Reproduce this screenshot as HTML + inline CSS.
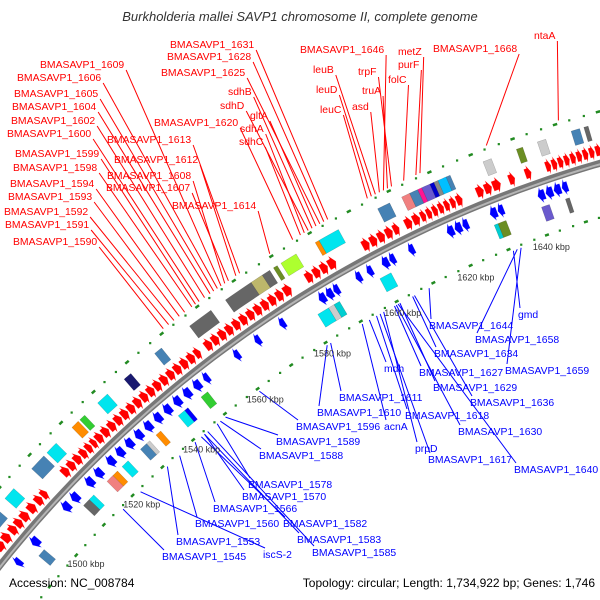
<!DOCTYPE html>
<html><head><meta charset="utf-8"><style>
html,body{margin:0;padding:0;background:#fff;overflow:hidden;width:600px;height:600px;}
svg{display:block;font-family:"Liberation Sans",sans-serif;overflow:hidden;}
</style></head><body>
<svg id="map" width="600" height="600" viewBox="0 0 600 600" xmlns="http://www.w3.org/2000/svg">
<defs><clipPath id="clip"><rect x="0" y="0" width="600" height="600"/></clipPath></defs>
<text x="300" y="21" text-anchor="middle" font-size="13" font-style="italic" fill="#333">Burkholderia mallei SAVP1 chromosome II, complete genome</text>
<g clip-path="url(#clip)">
<g id="dots"></g>
<g id="boxes"></g>
<g id="backbone"></g>
<g id="genes"></g>
<g id="lines"></g>
<g id="labels"></g>
<g id="ticks"></g>
</g>
<rect x="0" y="572" width="600" height="28" fill="#fff" opacity="0"/>
<text x="9" y="587" font-size="12" fill="#000">Accession: NC_008784</text>
<text x="595" y="587" text-anchor="end" font-size="12" fill="#000">Topology: circular; Length: 1,734,922 bp; Genes: 1,746</text>
</svg>
<script>
const genomeKbp = 1734.922;
const tickKbp = [1500,1520,1540,1560,1580,1600,1620,1640];
const fwdStart = [1487,1489,1491.5,1494,1496,1498,1500.5,1503,1505,1512,1514,1516,1518,1519.8,1521.5,1523,1525,1527,1529,1531,1533,1535,1537,1539,1541,1543,1545,1547,1549,1551,1553,1556,1558,1560,1562,1564,1566,1568,1570,1572,1574,1576,1578,1584,1586,1588,1590,1599,1601,1603,1605,1607,1610,1612,1614,1615.5,1617,1618.5,1620,1621.5,1623,1628,1630,1632,1636,1640,1645,1646.5,1648,1649.5,1651,1652.5,1654,1655.5,1657];
const fwdEnd   = [1488.8,1491.2,1493.5,1495.8,1497.8,1500,1502.5,1504.8,1506.5,1513.8,1515.8,1517.8,1519.6,1521.3,1522.8,1524.8,1526.8,1528.8,1530.8,1532.8,1534.8,1536.8,1538.8,1540.8,1542.8,1544.8,1546.8,1548.8,1550.8,1552.8,1554.5,1557.8,1559.8,1561.8,1563.8,1565.8,1567.8,1569.8,1571.8,1573.8,1575.8,1577.8,1580,1585.8,1587.8,1589.8,1592,1600.8,1602.8,1604.8,1606.8,1608.5,1611.8,1613.8,1615.3,1616.8,1618.3,1619.8,1621.3,1622.8,1624.5,1629.8,1631.8,1634,1637.5,1641.5,1646.3,1647.8,1649.3,1650.8,1652.3,1653.8,1655.3,1656.8,1658.5];
const revStart = [1489,1495,1506,1509,1514,1517,1521,1524,1527,1530,1533,1536,1539,1542,1545,1548,1551,1560,1566,1573,1584,1586,1588,1594,1597,1601,1603,1608,1618,1620,1622,1629,1631,1641,1643,1645,1647];
const revEnd   = [1490.5,1497,1508,1511,1516,1519,1523,1526,1529,1532,1535,1538,1541,1544,1547,1550,1552.5,1561.5,1567.5,1574.5,1585.8,1587.8,1589.5,1595.5,1598.5,1602.8,1604.5,1609.5,1619.8,1621.8,1623.5,1630.8,1632.5,1642.8,1644.8,1646.8,1648.5];
const outStart = [1493,1499,1508,1513,1521,1523.5,1529,1537,1546,1556,1566,1573,1576,1579,1581,1590,1591,1606,1612,1614,1616,1617,1619,1620,1621,1623,1632,1640,1645,1653,1656];
const outEnd   = [1496,1502,1512,1516,1523,1525,1532,1539,1548,1562,1573,1576,1578,1580,1585,1591,1596,1609,1614,1616,1617,1619,1620,1621,1623,1624,1634,1641.5,1647,1655,1657];
const outColor = ['#4682b4','#00e5ee','#4682b4','#00e5ee','#ff8c00','#32cd32','#00e5ee','#191970','#4682b4','#666666','#666666','#bdb76b','#666666','#6b8e23','#adff2f','#ff8c00','#00e5ee','#4682b4','#f08080','#4682b4','#ff1493','#6a5acd','#0000cd','#888888','#00bfff','#4682b4','#cccccc','#6b8e23','#cccccc','#4682b4','#666666'];
const inStart = [1494,1510,1512,1518,1520,1523,1529,1531,1534,1541,1543,1548,1582,1585,1586.5,1599,1629,1630,1641,1647];
const inEnd   = [1496,1512,1513.5,1520,1521.5,1525,1531,1532,1535.5,1543,1544,1550,1585,1586.5,1588,1602,1630,1632,1643,1648];
const inColor = ['#4682b4','#666666','#00e5ee','#f08080','#ff8c00','#00e5ee','#4682b4','#cccccc','#ff8c00','#00e5ee','#0000ff','#32cd32','#00e5ee','#cccccc','#00ced1','#00e5ee','#00ced1','#6b8e23','#6a5acd','#666666'];
const redNames = ['BMASAVP1_1609','BMASAVP1_1606','BMASAVP1_1605','BMASAVP1_1604','BMASAVP1_1602','BMASAVP1_1600','BMASAVP1_1599','BMASAVP1_1598','BMASAVP1_1594','BMASAVP1_1593','BMASAVP1_1592','BMASAVP1_1591','BMASAVP1_1590','BMASAVP1_1631','BMASAVP1_1628','BMASAVP1_1625','BMASAVP1_1620','BMASAVP1_1613','BMASAVP1_1612','BMASAVP1_1608','BMASAVP1_1607','BMASAVP1_1614','sdhB','sdhD','gltA','sdhA','sdhC','BMASAVP1_1646','leuB','leuD','leuC','trpF','truA','asd','metZ','purF','folC','BMASAVP1_1668','ntaA'];
const redKbp = [1567,1566,1565,1564,1562.5,1561,1560,1559,1557,1555.5,1554,1552.5,1551,1595,1594,1593,1586,1572,1571,1568,1569,1580,1591,1590,1592,1589,1588,1609,1607,1606,1605,1611,1610,1608,1618,1617,1614,1634,1651];
const blueNames = ['BMASAVP1_1644','BMASAVP1_1658','gmd','BMASAVP1_1634','BMASAVP1_1659','mdh','BMASAVP1_1627','BMASAVP1_1629','BMASAVP1_1611','BMASAVP1_1636','BMASAVP1_1610','BMASAVP1_1618','BMASAVP1_1596','acnA','BMASAVP1_1630','BMASAVP1_1589','prpD','BMASAVP1_1617','BMASAVP1_1588','BMASAVP1_1640','BMASAVP1_1578','BMASAVP1_1570','BMASAVP1_1566','BMASAVP1_1560','BMASAVP1_1553','BMASAVP1_1545','BMASAVP1_1582','BMASAVP1_1583','BMASAVP1_1585','iscS-2'];
const blueKbp = [1608.5,1632,1631,1604,1633,1592,1599,1600.5,1581,1604.5,1580,1594,1560,1590,1599.5,1549.6,1596,1595,1548,1600,1547,1543,1540,1535,1531,1516,1542,1543,1544,1522];

// layout (not data)
const CX=929.5, CY=1303.6, R=1187;
const redPos=[[40,68],[17,81],[14,97],[12,110],[11,124],[7,137],[15,157],[13,171],[10,187],[8,200],[4,215],[5,228],[13,245],[170,48],[167,60],[161,76],[154,126],[107,143],[114,163],[107,179],[106,191],[172,209],[228,95],[220,109],[250,119],[240,132],[239,145],[300,53],[313,73],[316,93],[320,113],[358,75],[362,94],[352,110],[398,55],[398,68],[388,83],[433,52],[534,39]];
const bluePos=[[429,329],[475,343],[518,318],[434,357],[505,374],[384,372],[419,376],[433,391],[339,401],[470,406],[317,416],[405,419],[296,430],[384,430],[458,435],[276,445],[415,452],[428,463],[259,459],[514,473],[248,488],[242,500],[213,512],[195,527],[176,545],[162,560],[283,527],[297,543],[312,556],[263,558]];

const NS='http://www.w3.org/2000/svg';
function ang(k){return (-90+k/genomeKbp*360)*Math.PI/180;}
function pt(k,r){const a=ang(k);return [CX+r*Math.cos(a),CY+r*Math.sin(a)];}
function mk(tag,parent,attrs){const e=document.createElementNS(NS,tag);for(const k in attrs)e.setAttribute(k,attrs[k]);document.getElementById(parent).appendChild(e);return e;}
function arcPts(s,e,r,n){const o=[];for(let i=0;i<=n;i++){o.push(pt(s+(e-s)*i/n,r));}return o;}
function ps(a){return a.map(p=>p[0].toFixed(1)+','+p[1].toFixed(1)).join(' ');}

// backbone
let e1=mk('polyline','backbone',{points:ps(arcPts(1478,1665,R,60)),fill:'none',stroke:'#777',"stroke-width":7});


let e2=mk('polyline','backbone',{points:ps(arcPts(1478,1665,R-1,60)),fill:'none',stroke:'#b5b5b5',"stroke-width":2});



// dot tracks
for(let k=1480;k<=1665;k+=3.3333){
  const kk=Math.round(k*10)/10;
  const isTen = Math.abs(kk%10)<0.2;
  [R-52,R+50].forEach(r=>{
    if(isTen){
      const a=pt(kk-0.5,r),b=pt(kk+0.5,r);
      const d=mk('line','dots',{x1:a[0],y1:a[1],x2:b[0],y2:b[1],stroke:'#228b22',"stroke-width":2.5});
      
      
    } else {
      const p=pt(kk,r);
      const d=mk('rect','dots',{x:p[0]-1,y:p[1]-1,width:2.2,height:2.2,fill:'#228b22'});
      
      
    }
  });
}

// boxes
function band(s,e,r1,r2,fill,parent,name){
  const pts=arcPts(s,e,r2,4).concat(arcPts(e,s,r1,4));
  const p=mk('polygon',parent,{points:ps(pts),fill:fill,stroke:'rgba(0,0,0,0.25)',"stroke-width":0.5});
  
  
}
outStart.forEach((s,i)=>band(s,outEnd[i],R+24,R+39,outColor[i],'boxes','outer-feature-box'));
inStart.forEach((s,i)=>band(s,inEnd[i],R-39,R-24,inColor[i],'boxes','inner-feature-box'));

// genes
function arrow(s,e,r1,r2,dir,fill,name){
  const len=e-s, h=Math.min(1.0,len*0.55), mid=(r1+r2)/2, w=(r2-r1)*0.2;
  let pts;
  if(dir>0){pts=arcPts(s,e-h,r2-w,3).concat([pt(e-h,r2),pt(e,mid),pt(e-h,r1)]).concat(arcPts(e-h,s,r1+w,3));}
  else{pts=[pt(s,mid),pt(s+h,r2)].concat(arcPts(s+h,e,r2-w,3)).concat(arcPts(e,s+h,r1+w,3)).concat([pt(s+h,r1)]);}
  const p=mk('polygon','genes',{points:ps(pts),fill:fill,stroke:'rgba(255,255,255,0.5)',"stroke-width":0.4});
  
  
}
fwdStart.forEach((s,i)=>arrow(s,fwdEnd[i],R+4,R+21,1,'#ff0000','forward-gene'));
revStart.forEach((s,i)=>arrow(s,revEnd[i],R-21,R-4,-1,'#0000ff','reverse-gene'));

// ticks
tickKbp.forEach(k=>{
  const p=pt(k,1122);
  const t=mk('text','ticks',{x:p[0],y:p[1]+3,"text-anchor":"middle","font-size":9,fill:'#333'});
  
  
  t.textContent=k+' kbp';
});

// labels
redNames.forEach((n,i)=>{
  const [x,y]=redPos[i];
  const t=mk('text','labels',{x:x,y:y,"font-size":10.4,fill:'#ff0000'});
  
  
  t.textContent=n;
  const w=t.getComputedTextLength();
  const p=pt(redKbp[i],1240);
  const l=mk('line','lines',{x1:x+w+2,y1:y+2,x2:p[0],y2:p[1],stroke:'#ff0000',"stroke-width":1});
  
  
});
blueNames.forEach((n,i)=>{
  const [x,y]=bluePos[i];
  const t=mk('text','labels',{x:x,y:y,"font-size":10.4,fill:'#0000ff'});
  
  
  t.textContent=n;
  const p=pt(blueKbp[i],1132);
  const l=mk('line','lines',{x1:x+2,y1:y-10,x2:p[0],y2:p[1],stroke:'#0000ff',"stroke-width":1});
  
  
});
</script>
</body></html>
